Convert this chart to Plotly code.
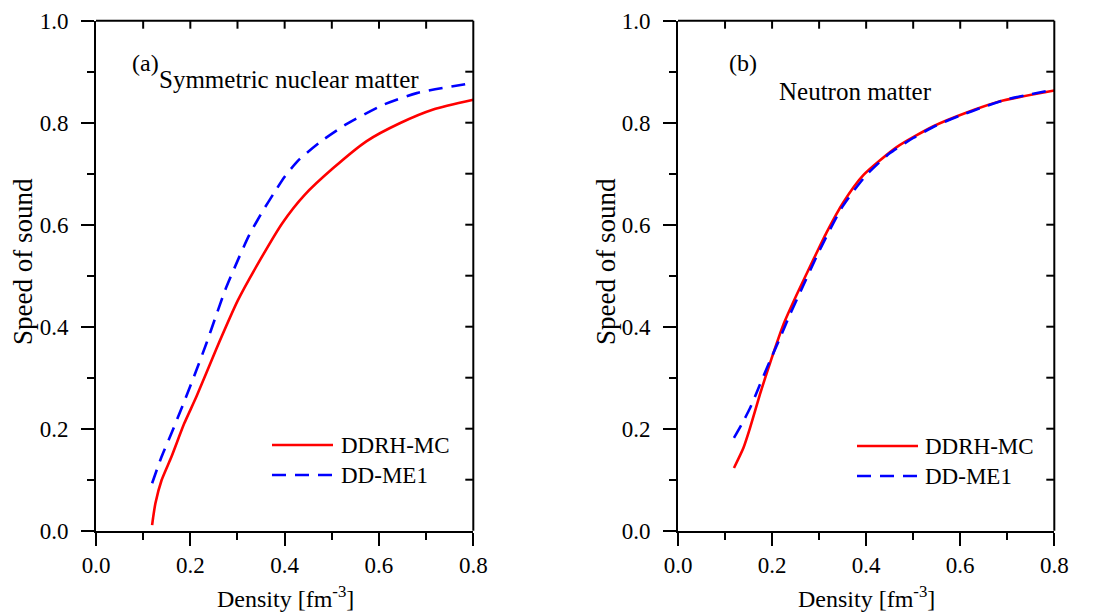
import plotly.graph_objects as go

# ---- data ----
sym_ddrh_x = [0.119, 0.121, 0.126, 0.139, 0.160, 0.187, 0.213, 0.254, 0.301, 0.348, 0.395, 0.442, 0.503, 0.574, 0.644, 0.715, 0.8]
sym_ddrh_y = [0.011, 0.025, 0.054, 0.099, 0.145, 0.210, 0.263, 0.354, 0.452, 0.531, 0.603, 0.658, 0.711, 0.764, 0.799, 0.826, 0.845]
sym_ddme_x = [0.119, 0.139, 0.160, 0.187, 0.213, 0.234, 0.254, 0.274, 0.301, 0.325, 0.355, 0.376, 0.400, 0.430, 0.475, 0.531, 0.609, 0.680, 0.8]
sym_ddme_y = [0.093, 0.145, 0.191, 0.253, 0.315, 0.367, 0.420, 0.472, 0.531, 0.580, 0.629, 0.660, 0.694, 0.727, 0.762, 0.797, 0.835, 0.858, 0.878]

neu_ddrh_x = [0.119, 0.139, 0.153, 0.174, 0.199, 0.224, 0.252, 0.288, 0.316, 0.351, 0.394, 0.465, 0.543, 0.614, 0.685, 0.8]
neu_ddrh_y = [0.123, 0.162, 0.201, 0.267, 0.338, 0.404, 0.462, 0.532, 0.585, 0.643, 0.697, 0.752, 0.793, 0.820, 0.842, 0.863]
neu_ddme_x = [0.119, 0.135, 0.153, 0.174, 0.195, 0.217, 0.238, 0.26, 0.3, 0.35, 0.4, 0.45, 0.5, 0.55, 0.6, 0.65, 0.7, 0.8]
neu_ddme_y = [0.182, 0.208, 0.240, 0.286, 0.332, 0.378, 0.424, 0.468, 0.548, 0.636, 0.697, 0.740, 0.770, 0.795, 0.814, 0.831, 0.846, 0.865]

series_names = ["DDRH-MC", "DD-ME1"]
panel_labels = ["(a)", "(b)"]
panel_titles = ["Symmetric nuclear matter", "Neutron matter"]
x_title = "Density [fm<sup>-3</sup>]"
y_title = "Speed of sound"
X_RANGE = [0, 0.8]
Y_RANGE = [0, 1.0]
top_tick_vals = [0.1, 0.2, 0.3, 0.4, 0.5, 0.6, 0.7]
right_tick_vals = [0.1, 0.2, 0.3, 0.4, 0.5, 0.6, 0.7, 0.8, 0.9]

RED = "#ff0000"
BLUE = "#0000ff"
DASH = "14px,9px"
FONT = "Liberation Serif"
W, H = 1101, 615
OFF = 8  # page body margin in the browser
LW = 2.6

def fx(px):
    return (px - OFF) / W

def fy(py):
    return 1 - (py - OFF) / H

fig = go.Figure()
def add_line(x, y, color, dash, xa, ya, name):
    fig.add_trace(go.Scatter(x=x, y=y, mode="lines", name=name, showlegend=False,
                             line=dict(color=color, width=LW, dash=dash, shape="spline", smoothing=0.6),
                             xaxis=xa, yaxis=ya))

add_line(sym_ddrh_x, sym_ddrh_y, RED, "solid", "x", "y", series_names[0])
add_line(sym_ddme_x, sym_ddme_y, BLUE, DASH, "x", "y", series_names[1])
add_line(neu_ddrh_x, neu_ddrh_y, RED, "solid", "x2", "y2", series_names[0])
add_line(neu_ddme_x, neu_ddme_y, BLUE, DASH, "x2", "y2", series_names[1])

# plot area pixel geometry (screen pixels)
PX_L = (96, 473.3)
PX_R = (678, 1054.3)
PX_Y = (20.7, 530.7)
left_dom = [fx(PX_L[0]), fx(PX_L[1])]
right_dom = [fx(PX_R[0]), fx(PX_R[1])]
y_dom = [fy(PX_Y[1]), fy(PX_Y[0])]

tickfont = dict(family=FONT, size=23, color="black")

def main_x(dom, anchor):
    return dict(domain=dom, anchor=anchor, range=X_RANGE, dtick=0.2, tick0=0, tickformat=".1f",
                ticks="outside", ticklen=13, tickwidth=2, tickcolor="black",
                minor=dict(ticks="outside", ticklen=7, dtick=0.1, tick0=0, tickwidth=2, tickcolor="black"),
                showline=True, linewidth=2, linecolor="black", showgrid=False, zeroline=False,
                automargin=False, tickfont=tickfont)

def main_y(dom, anchor):
    return dict(domain=dom, anchor=anchor, range=Y_RANGE, dtick=0.2, tick0=0, tickformat=".1f",
                ticks="outside", ticklen=13, tickwidth=2, tickcolor="black",
                minor=dict(ticks="outside", ticklen=7, dtick=0.1, tick0=0, tickwidth=2, tickcolor="black"),
                showline=True, linewidth=2, linecolor="black", showgrid=False, zeroline=False,
                automargin=False, tickfont=tickfont, ticklabelstandoff=8)

fig.update_layout(
    template="none",
    width=W, height=H,
    margin=dict(l=0, r=0, t=0, b=0, pad=0),
    paper_bgcolor="white", plot_bgcolor="white",
    font=dict(family=FONT, color="black"),
    showlegend=False,
    xaxis=main_x(left_dom, "y"),
    yaxis=main_y(y_dom, "x"),
    xaxis2=main_x(right_dom, "y2"),
    yaxis2=main_y(y_dom, "x2"),
)

# frame: top and right lines with inward ticks every 0.1 (paper space, mapped from axis ranges)
shapes = []
frame = dict(color="black", width=2)
TICK_IN = 8
for xdom in (left_dom, right_dom):
    x0p, x1p = xdom
    y0p, y1p = y_dom
    def px_x(v):
        return x0p + (v - X_RANGE[0]) / (X_RANGE[1] - X_RANGE[0]) * (x1p - x0p)
    def px_y(v):
        return y0p + (v - Y_RANGE[0]) / (Y_RANGE[1] - Y_RANGE[0]) * (y1p - y0p)
    shapes.append(dict(type="line", xref="paper", yref="paper", x0=x0p, x1=x1p, y0=y1p, y1=y1p, line=frame))
    shapes.append(dict(type="line", xref="paper", yref="paper", x0=x1p, x1=x1p, y0=y0p, y1=y1p, line=frame))
    for v in top_tick_vals:
        shapes.append(dict(type="line", xref="paper", yref="paper", x0=px_x(v), x1=px_x(v),
                           y0=y1p, y1=y1p - TICK_IN / H, line=frame))
    for v in right_tick_vals:
        shapes.append(dict(type="line", xref="paper", yref="paper", x0=x1p, x1=x1p - TICK_IN / W,
                           y0=px_y(v), y1=px_y(v), line=frame))

ann = []
# axis titles
for cx in (285, 866):
    ann.append(dict(text=x_title, x=fx(cx), y=fy(597), xanchor="center", yanchor="middle",
                    font=dict(family=FONT, size=24, color="black")))
for cx in (23, 606):
    ann.append(dict(text=y_title, x=fx(cx), y=fy(262), xanchor="center", yanchor="middle",
                    textangle=-90, font=dict(family=FONT, size=27, color="black")))
# panel labels and titles
ann.append(dict(text=panel_labels[0], x=fx(130), y=fy(63), xanchor="left", yanchor="middle",
                font=dict(family=FONT, size=24, color="black")))
ann.append(dict(text=panel_titles[0], x=fx(157), y=fy(79), xanchor="left", yanchor="middle",
                font=dict(family=FONT, size=25, color="black")))
ann.append(dict(text=panel_labels[1], x=fx(727), y=fy(63), xanchor="left", yanchor="middle",
                font=dict(family=FONT, size=24, color="black")))
ann.append(dict(text=panel_titles[1], x=fx(777), y=fy(91), xanchor="left", yanchor="middle",
                font=dict(family=FONT, size=25, color="black")))

# legend keys (drawn in paper space)
legend_pos = [(272, 333, 339, 445), (857, 918, 923, 446)]
for (x0, x1, xt, y0) in legend_pos:
    for i, (name, col, dash) in enumerate([(series_names[0], RED, "solid"), (series_names[1], BLUE, DASH)]):
        yy = fy(y0 + 30 * i)
        shapes.append(dict(type="line", xref="paper", yref="paper", x0=fx(x0), x1=fx(x1), y0=yy, y1=yy,
                           line=dict(color=col, width=LW, dash=dash)))
        ann.append(dict(text=name, x=fx(xt), y=yy, xanchor="left", yanchor="middle",
                        font=dict(family=FONT, size=23, color="black")))
for a in ann:
    a.update(xref="paper", yref="paper", showarrow=False)

fig.update_layout(annotations=ann, shapes=shapes)
fig.write_html("out.html")
